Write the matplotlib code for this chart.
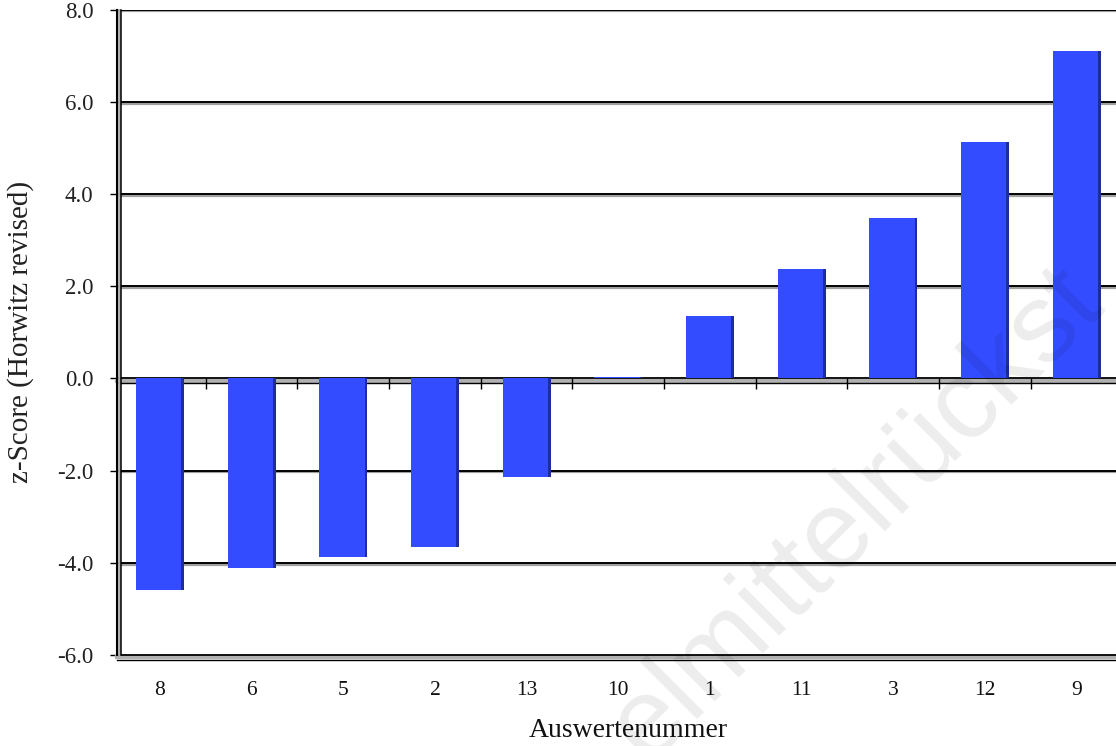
import numpy as np
import matplotlib
matplotlib.use("Agg")
import matplotlib.pyplot as plt
import matplotlib.patheffects as pe
from matplotlib.transforms import offset_copy

# Auswertenummern (sorted by z-score) and their z-scores (Horwitz revised)
labs = ["8", "6", "5", "2", "13", "10", "1", "11", "3", "12", "9"]
zscores = [-4.6, -4.12, -3.87, -3.66, -2.15, 0.04, 1.35, 2.37, 3.48, 5.13, 7.1]
yticks = [-6, -4, -2, 0, 2, 4, 6, 8]

plt.rcParams["font.family"] = ["Liberation Serif", "DejaVu Serif"]

fig = plt.figure(figsize=(11.16, 7.46), dpi=100)
ax = fig.add_axes([117 / 1116, 1 - 655 / 746, 999 / 1116, (655 - 9.5) / 746])

x = np.arange(len(labs))
w = 0.52
blue = "#334cff"
dark = "#1d2d9c"

ax.bar(x, zscores, width=w, color=blue, edgecolor="none", zorder=3)
# darker side strip for the 3D look
ax.bar(x + w / 2 - 0.012, zscores, width=0.028, color=dark, edgecolor="none", zorder=4)

ax.set_ylim(-6, 8)
ax.set_xlim(-0.469, 10.43)
ax.set_yticks(yticks)
ax.set_yticklabels([f"{v:.1f}" for v in yticks], fontsize=16.5, color="#222222")
ax.set_xticks(x)
ax.set_xticklabels(labs, fontsize=15.5, color="#111111")
ax.tick_params(axis="x", length=0, pad=19)
ax.tick_params(axis="y", length=5, width=1, pad=12, direction="out")

for s in ["top", "right", "bottom"]:
    ax.spines[s].set_visible(False)
ax.spines["left"].set_linewidth(1.5)

shadow = [pe.SimpleLineShadow(offset=(0, -1.3), shadow_color="#888888", alpha=0.8, linewidth=1.6), pe.Normal()]
for v in yticks[1:]:
    if v == 0:
        continue
    ax.axhline(v, color="black", lw=1.4, zorder=1, path_effects=shadow)

ytr = ax.get_yaxis_transform()
xtr = ax.get_xaxis_transform()

# floor lines (value 0 and bottom) drawn with a gray band
for v in [0, -6]:
    ax.plot([0, 1], [v, v], color="#b0b0b0", lw=3, zorder=2, clip_on=False,
            transform=offset_copy(ytr, fig=fig, y=-1.6, units="points"))
    ax.plot([0, 1], [v, v], color="black", lw=1.3, zorder=2, clip_on=False, transform=ytr)
    ax.plot([0, 1], [v, v], color="black", lw=1.0, zorder=2, clip_on=False,
            transform=offset_copy(ytr, fig=fig, y=-3.4, units="points"))

# left wall: second line
x0 = ax.get_xlim()[0]
ax.plot([x0, x0], [0, 1], color="#b0b0b0", lw=2, zorder=2, clip_on=False,
        transform=offset_copy(xtr, fig=fig, x=1.3, units="points"))
ax.plot([x0, x0], [0, 1], color="black", lw=1.1, zorder=2, clip_on=False,
        transform=offset_copy(xtr, fig=fig, x=2.6, units="points"))

# category tick marks on the zero line
ax.vlines(x[:-1] + 0.5, -0.22, 0, color="black", lw=1, zorder=2)

ax.set_ylabel("z-Score (Horwitz revised)", fontsize=21, color="#222222")
ax.yaxis.set_label_coords(-0.083, 0.5)
ax.set_xlabel("Auswertenummer", fontsize=20, color="#111111")
ax.xaxis.set_label_coords(0.512, -0.098)

# faint watermark
fig.text(648 / 1116, 1 - 764 / 746, "elmittelrückst", family="Liberation Sans",
         fontsize=80, rotation=45, rotation_mode="anchor", ha="left", va="baseline",
         color="black", alpha=0.075, zorder=10)

fig.savefig("out.png", dpi=100)
